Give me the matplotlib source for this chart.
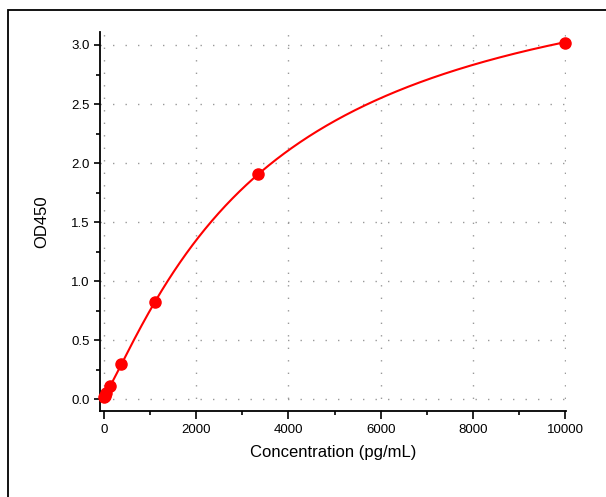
import numpy as np
import matplotlib
matplotlib.use("Agg")
import matplotlib.pyplot as plt
from matplotlib.patches import Rectangle
from matplotlib.ticker import MultipleLocator, FormatStrFormatter

plt.rcParams['font.family'] = ['Liberation Sans', 'DejaVu Sans']

conc = [0, 13.7, 41.2, 123.5, 370.4, 1111.1, 3333.3, 10000]
od = [0.02, 0.03, 0.05, 0.11, 0.30, 0.82, 1.91, 3.02]
x_ticks = [0, 2000, 4000, 6000, 8000, 10000]
y_ticks = [0.0, 0.5, 1.0, 1.5, 2.0, 2.5, 3.0]

x = np.array(conc, dtype=float)
y = np.array(od, dtype=float)

# 4PL fit: y = d + (a - d) / (1 + (x/c)^b); a, d linear for fixed b, c
best = None
for b in np.linspace(0.6, 2.5, 96):
    for c in np.logspace(3, 5.5, 200):
        g = 1.0 / (1.0 + (x / c) ** b)
        A = np.column_stack([g, 1 - g])
        coef, *_ = np.linalg.lstsq(A, y, rcond=None)
        r = np.sum((A @ coef - y) ** 2)
        if best is None or r < best[0]:
            best = (r, b, c, coef)
_, b, c, (a, d) = best
xf = np.linspace(0, 10000, 600)
gf = 1.0 / (1.0 + (xf / c) ** b)
yf = a * gf + d * (1 - gf)

fig = plt.figure(figsize=(6.06, 4.97), dpi=100)
ax = fig.add_axes([100/606, (497-411)/497, (566-100)/606, (411-32)/497])

ax.plot(xf, yf, color='#ff0000', lw=1.5, zorder=3)
ax.plot(x, y, 'o', color='#ff0000', ms=8, zorder=4, clip_on=False)

ax.set_xlim(-87, 10020)
ax.set_ylim(-0.1, 3.11)
ax.set_xticks(x_ticks)
ax.set_yticks(y_ticks)
ax.yaxis.set_major_formatter(FormatStrFormatter('%.1f'))
ax.xaxis.set_minor_locator(MultipleLocator(1000))
ax.yaxis.set_minor_locator(MultipleLocator(0.25))
ax.tick_params(which='major', direction='out', length=6, width=1.2, labelsize=9.5, color='black')
ax.tick_params(axis='y', which='major', length=4)
ax.tick_params(which='minor', direction='out', length=3, width=1.2)

ax.grid(True, which='major', color='#999999', linestyle=(0, (1, 8)), linewidth=1.0)
for s in ['top', 'right']:
    ax.spines[s].set_visible(False)
for s in ['left', 'bottom']:
    ax.spines[s].set_linewidth(1.3)

ax.set_xlabel('Concentration (pg/mL)', fontsize=12, labelpad=6)
ax.set_ylabel('OD450', fontsize=12, labelpad=16)

fig.patches.append(Rectangle((8/606, -0.1), 1.2, (497-10)/497 + 0.1,
                             transform=fig.transFigure, fill=False,
                             edgecolor='black', linewidth=1.3, clip_on=False))

fig.savefig('out.png', dpi=100)
